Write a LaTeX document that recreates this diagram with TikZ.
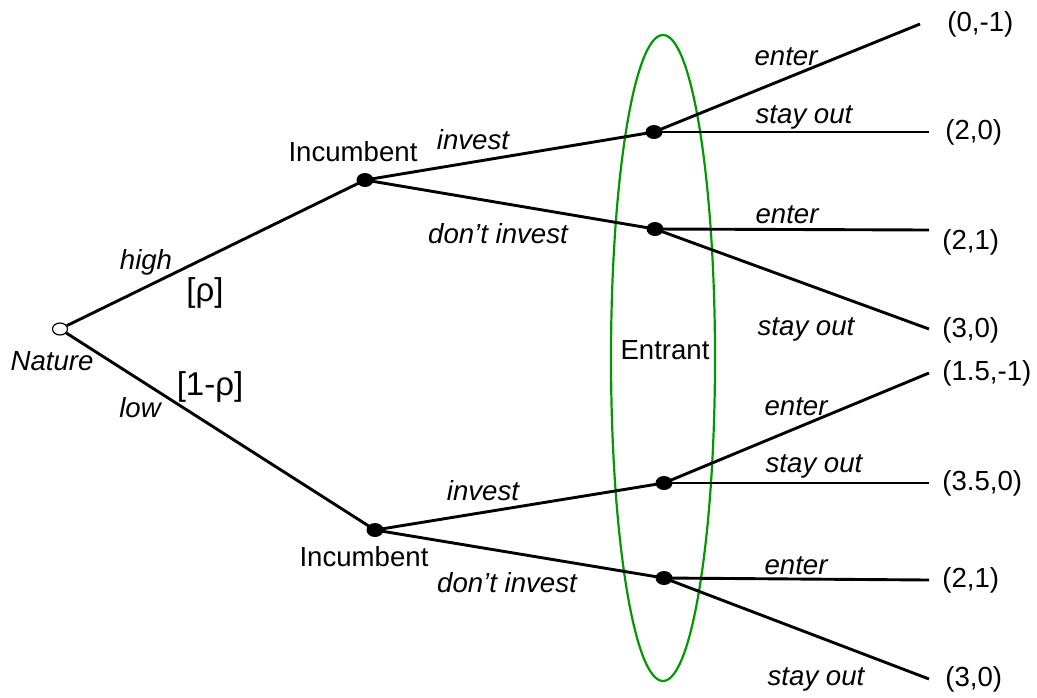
\documentclass[tikz,border=0pt]{standalone}
\usepackage{fontspec}
\setmainfont{Liberation Sans}
\usetikzlibrary{shapes.geometric}
\begin{document}
\begin{tikzpicture}[x=0.5pt,y=-0.5pt,
  every node/.style={font=\fontsize{13.8}{16}\selectfont, inner sep=0pt},
  dot/.style={ellipse, fill=black, minimum width=8.5pt, minimum height=7pt, inner sep=0pt},
  chance/.style={ellipse, draw=black, fill=white, line width=0.6pt, minimum width=7.5pt, minimum height=6pt, inner sep=0pt},
  branch/.style={line width=1.45pt, black},
  act/.style={font=\fontsize{13.8}{16}\selectfont\itshape},
  prob/.style={font=\fontsize{16.5}{19}\selectfont},
  pay/.style={anchor=west},
  infoset/.style={draw=green!60!black, line width=1.1pt}
]
\useasboundingbox (0,0) rectangle (1037,697);
% information set
\node[infoset, ellipse, minimum width=104pt*0.5, minimum height=646pt*0.5] (ent) at (663,358) {};
% nodes
\node[chance] (nat) at (60,329) {};
\node[dot] (i1) at (365,180) {};
\node[dot] (i2) at (375,530) {};
\node[dot] (e1) at (654,132) {};
\node[dot] (e2) at (655,229) {};
\node[dot] (e3) at (664,483) {};
\node[dot] (e4) at (664,578) {};
\coordinate (t1) at (920,24);
\coordinate (t2) at (929,132);
\coordinate (t3) at (929,230);
\coordinate (t4) at (929,329);
\coordinate (t5) at (929,373);
\coordinate (t6) at (929,483);
\coordinate (t7) at (929,580);
\coordinate (t8) at (929,679);
% branches
\draw[branch] (nat) -- (i1.center);
\draw[branch] (nat) -- (i2.center);
\draw[branch] (i1.center) -- (e1.center);
\draw[branch] (i1.center) -- (e2.center);
\draw[branch] (i2.center) -- (e3.center);
\draw[branch] (i2.center) -- (e4.center);
\draw[branch] (e1.center) -- (t1);
\draw[branch] (e1.center) -- (t2);
\draw[branch] (e2.center) -- (t3);
\draw[branch] (e2.center) -- (t4);
\draw[branch] (e3.center) -- (t5);
\draw[branch] (e3.center) -- (t6);
\draw[branch] (e4.center) -- (t7);
\draw[branch] (e4.center) -- (t8);
% player labels
\node (lnat) at (52,361) {\itshape Nature};
\node (li1) at (353,152) {Incumbent};
\node (li2) at (364,557) {Incumbent};
\node (lent) at (665,350) {Entrant};
% action labels
\node[act] (ahigh) at (146,262) {high};
\node[prob] (prho) at (205,293) {[ρ]};
\node[prob] (p1rho) at (210,387) {[1-ρ]};
\node[act] (alow) at (140,408) {low};
\node[act] (ai1) at (473,140) {invest};
\node[act] (adi1) at (498,234) {don’t invest};
\node[act] (ai2) at (483,491) {invest};
\node[act] (adi2) at (507,583) {don’t invest};
\node[act] (en1) at (786,57) {enter};
\node[act] (so1) at (804,117) {stay out};
\node[act] (en2) at (787,215) {enter};
\node[act] (so2) at (806,329) {stay out};
\node[act] (en3) at (796,407) {enter};
\node[act] (so3) at (814,466) {stay out};
\node[act] (en4) at (796,566) {enter};
\node[act] (so4) at (816,679) {stay out};
% payoffs
\node[pay] (p1) at (947,24) {(0,-1)};
\node[pay] (p2) at (945,132) {(2,0)};
\node[pay] (p3) at (942,242) {(2,1)};
\node[pay] (p4) at (942,330) {(3,0)};
\node[pay] (p5) at (942,373) {(1.5,-1)};
\node[pay] (p6) at (942,483) {(3.5,0)};
\node[pay] (p7) at (942,580) {(2,1)};
\node[pay] (p8) at (945,679) {(3,0)};
\end{tikzpicture}
\end{document}
